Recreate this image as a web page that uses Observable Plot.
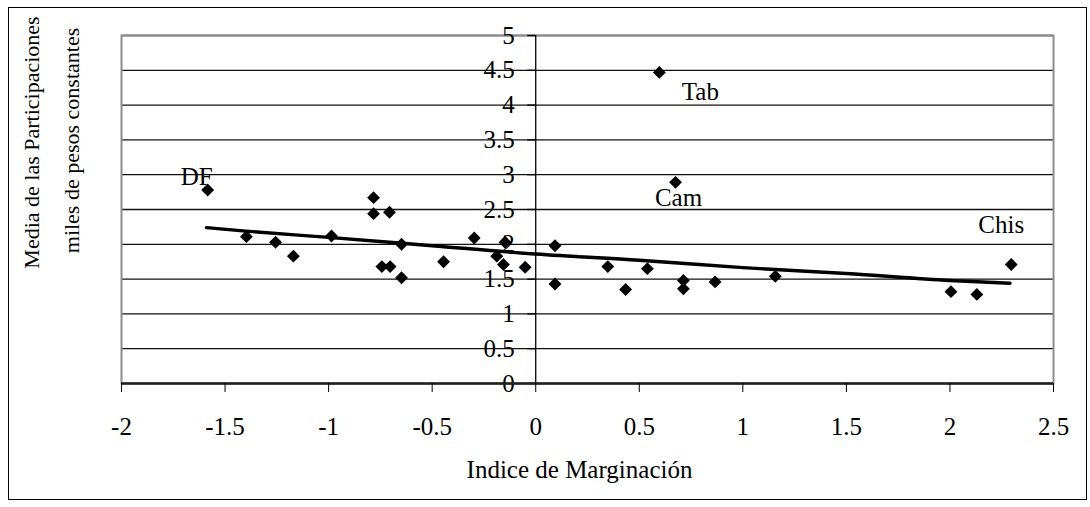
<!DOCTYPE html>
<html><head><meta charset="utf-8">
<script src="https://cdn.jsdelivr.net/npm/d3@7"></script>
<script src="https://cdn.jsdelivr.net/npm/@observablehq/plot@0.6"></script>
<style>
body{margin:0;background:#fff;}
#wrap{position:relative;width:1090px;height:507px;}
#border{position:absolute;left:8px;top:7px;width:1077px;height:491px;border:1.5px solid #000;pointer-events:none;}
</style></head><body><div id="wrap"><div id="border"></div></div>
<script>
// Data
const indice = [-1.584,-1.397,-1.256,-1.170,-0.986,-0.783,-0.783,-0.706,-0.743,-0.703,-0.648,-0.648,-0.445,-0.297,-0.148,-0.188,-0.156,-0.051,0.093,0.093,0.348,0.434,0.539,0.597,0.675,0.713,0.713,0.866,1.157,2.005,2.130,2.296];
const participaciones = [2.78,2.11,2.03,1.83,2.12,2.67,2.44,2.46,1.68,1.68,2.00,1.52,1.75,2.09,2.03,1.83,1.71,1.67,1.98,1.43,1.68,1.35,1.65,4.47,2.89,1.48,1.36,1.46,1.54,1.32,1.28,1.71];
const estado = ["DF","","","","","","","","","","","","","","","","","","","","","","","Tab","Cam","","","","","","","Chis"];
const trendX = [-1.59,-1.4,-1,-0.5,0,0.5,1,1.5,2,2.29];
const trendY = [2.24,2.19,2.10,1.98,1.86,1.77,1.665,1.58,1.48,1.44];
const xTicks = [-2,-1.5,-1,-0.5,0,0.5,1,1.5,2,2.5];
const yTicks = [0,0.5,1,1.5,2,2.5,3,3.5,4,4.5,5];
const xTitle = "Indice de Marginación";
const yTitle1 = "Media de las Participaciones";
const yTitle2 = "miles de pesos constantes";

const points = indice.map((x,i)=>({x, y: participaciones[i], name: estado[i]}));
const trend = trendX.map((x,i)=>({x, y: trendY[i]}));
const labeled = points.filter(d=>d.name);
const labelOffsets = {DF:[-11,-13], Tab:[41,20], Cam:[3,16], Chis:[-10,-39]};

const font = "'Liberation Serif','Times New Roman',serif";
const chart = Plot.plot({
  width:1090, height:507,
  marginLeft:121, marginRight:37, marginTop:35, marginBottom:124,
  style:{fontFamily:font, fontSize:"25px", background:"transparent", color:"#000"},
  x:{domain:[-2,2.5]},
  y:{domain:[0,5], axis:null},
  marks:[
    Plot.ruleY(yTicks, {stroke:"#111", strokeWidth:1.3}),
    Plot.frame({stroke:"#8c8c8c", strokeWidth:2}),
    Plot.ruleX([0], {stroke:"#000", strokeWidth:1.3}),
    Plot.ruleY(yTicks, {y:d=>d, x1:0, x2:0, insetLeft:-8, stroke:"#000", strokeWidth:1.3}),
    Plot.text(yTicks, {x:0, y:d=>d, text:d=>String(d), textAnchor:"end", dx:-21, fontSize:25, fill:"#000"}),
    Plot.ruleY([0], {stroke:"#222", strokeWidth:2.5}),
    Plot.axisX({ticks:xTicks, tickFormat:d=>String(d), tickSize:9, tickPadding:25, label:null, fontSize:25, stroke:"#000", fill:"#000"}),
    Plot.line(trend, {x:"x", y:"y", stroke:"#000", strokeWidth:3.4, curve:"monotone-x"}),
    Plot.dot(points, {x:"x", y:"y", symbol:"diamond2", r:5.8, fill:"#000", stroke:null}),
    ...labeled.map(d => Plot.text([d], {x:"x", y:"y", text:"name", dx:labelOffsets[d.name][0], dy:labelOffsets[d.name][1], fontSize:25, fill:"#000"})),
    Plot.text([xTitle], {frameAnchor:"bottom", textAnchor:"middle", lineAnchor:"middle", dx:-8, dy:86, fontSize:25, fill:"#000"}),
    Plot.text([yTitle1], {frameAnchor:"top-left", textAnchor:"middle", lineAnchor:"middle", rotate:-90, dx:-90, dy:107, fontSize:22, fill:"#000"}),
    Plot.text([yTitle2], {frameAnchor:"top-left", textAnchor:"middle", lineAnchor:"middle", rotate:-90, dx:-50, dy:105, fontSize:22, fill:"#000"})
  ]
});
document.getElementById("wrap").appendChild(chart);
chart.style.position = "absolute";
chart.style.left = "0";
chart.style.top = "0";
</script>
</body></html>
